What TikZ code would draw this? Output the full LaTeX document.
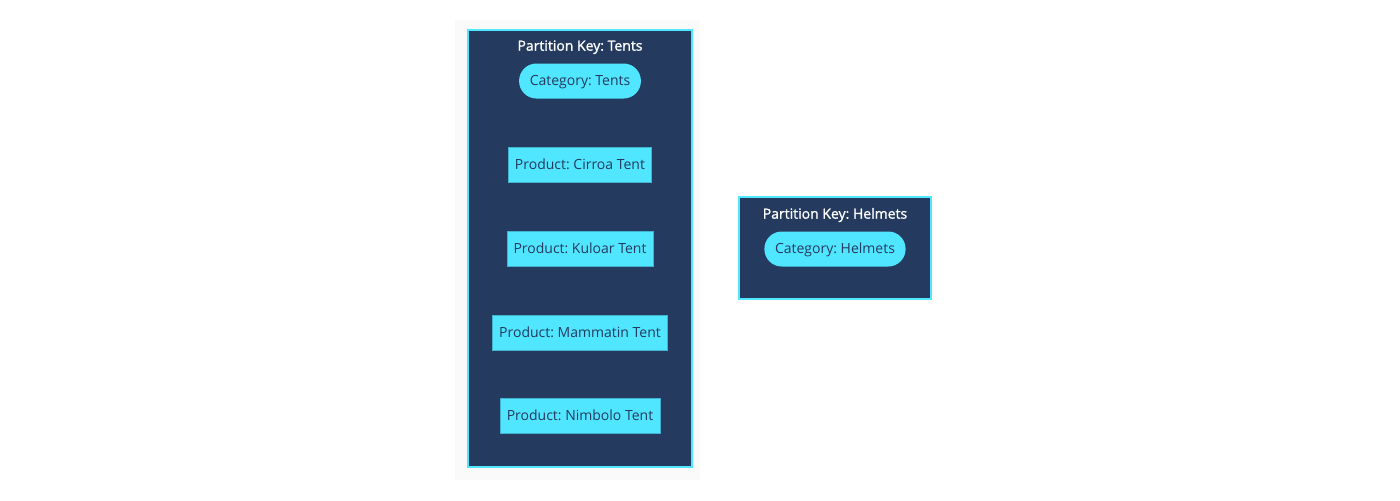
\documentclass[tikz,border=0pt]{standalone}
\usepackage{fontspec}
\setmainfont{Open Sans}
\newfontfamily\keyfont{Open Sans}[FakeBold=1.2]
\frenchspacing
\usetikzlibrary{positioning}
\definecolor{navy}{HTML}{243A5E}
\definecolor{aqua}{HTML}{50E6FF}
\definecolor{pagegray}{HTML}{FAFAFA}
\tikzset{
  partition/.style={draw=aqua, fill=navy, line width=0.9pt},
  keylabel/.style={text=white, font=\keyfont\fontsize{10.5}{12}\selectfont, text height=8pt, text depth=1pt},
  category/.style={fill=aqua, text=navy, rounded corners=13pt, minimum height=26.25pt, inner xsep=8pt, text height=8pt, text depth=1pt, font=\fontsize{10.5}{12}\selectfont},
  product/.style={fill=aqua, draw=aqua!70!navy, line width=0.4pt, text=navy, minimum height=26.25pt, inner xsep=5pt, text height=8pt, text depth=1pt, font=\fontsize{10.5}{12}\selectfont}
}
\begin{document}
\begin{tikzpicture}[x=0.75pt,y=-0.75pt]
      \useasboundingbox (0,0) rectangle (1400,500);
      \fill[pagegray] (455,20) rectangle (700,480);
      % partition: tents
      \draw[partition] (468,30) rectangle (692,467);
      \node[keylabel] (tentskey) at (580,46) {Partition Key: Tents};
      \node[category] (tents) at (580,81) {Category: Tents};
      \node[product] (cirroa) at (580,165) {Product: Cirroa Tent};
      \node[product] (kuloar) at (580,249) {Product: Kuloar Tent};
      \node[product] (mammatin) at (580,333) {Product: Mammatin Tent};
      \node[product] (nimbolo) at (580,416) {Product: Nimbolo Tent};
      % partition: helmets
      \draw[partition] (739,197) rectangle (931,299);
      \node[keylabel] (helmetskey) at (835,214) {Partition Key: Helmets};
      \node[category] (helmets) at (835,249) {Category: Helmets};
    \end{tikzpicture}
\end{document}
